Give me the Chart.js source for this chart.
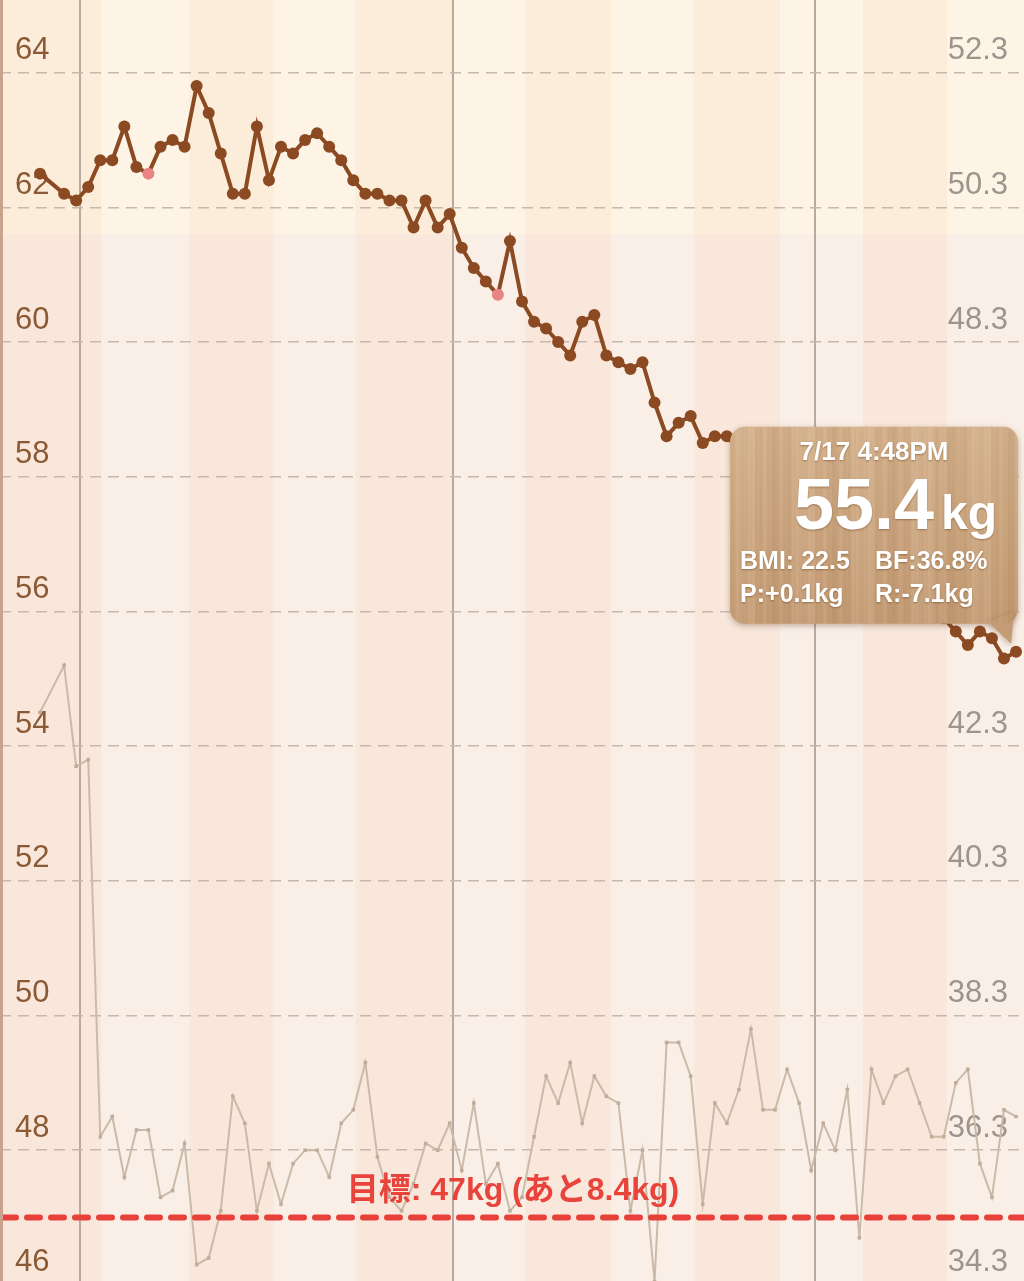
<!DOCTYPE html>
<html>
<head>
<meta charset="utf-8">
<title>体重グラフ</title>
<script src="https://cdn.jsdelivr.net/npm/chart.js@4.4.1/dist/chart.umd.min.js"></script>
<style>
  html, body { margin: 0; padding: 0; background: #faeee6; }
  #weightChart { display: block; }
</style>
</head>
<body>
<canvas id="weightChart" width="1024" height="1281"></canvas>
<script>
// one reading per day, 4/27 -> 7/17 (index 1: no reading)
const weightKg = [
  62.5, null, 62.2, 62.1, 62.3, 62.7, 62.7, 63.2, 62.6, 62.5,
  62.9, 63.0, 62.9, 63.8, 63.4, 62.8, 62.2, 62.2, 63.2, 62.4,
  62.9, 62.8, 63.0, 63.1, 62.9, 62.7, 62.4, 62.2, 62.2, 62.1,
  62.1, 61.7, 62.1, 61.7, 61.9, 61.4, 61.1, 60.9, 60.7, 61.5,
  60.6, 60.3, 60.2, 60.0, 59.8, 60.3, 60.4, 59.8, 59.7, 59.6,
  59.7, 59.1, 58.6, 58.8, 58.9, 58.5, 58.6, 58.6, 58.4, 58.5,
  58.2, 58.0, 58.1, 57.7, 57.5, 57.6, 57.2, 57.0, 57.1, 56.7,
  56.5, 56.6, 56.2, 56.0, 56.1, 55.9, 55.7, 55.5, 55.7, 55.6,
  55.3, 55.4
];
const bodyFatPct = [
  42.8, null, 43.5, 42.0, 42.1, 36.5, 36.8, 35.9, 36.6, 36.6,
  35.6, 35.7, 36.4, 34.6, 34.7, 35.4, 37.1, 36.7, 35.4, 36.1,
  35.5, 36.1, 36.3, 36.3, 35.9, 36.7, 36.9, 37.6, 36.2, 35.6,
  35.4, 35.8, 36.4, 36.3, 36.7, 36.0, 37.0, 35.8, 36.1, 35.4,
  35.6, 36.5, 37.4, 37.0, 37.6, 36.7, 37.4, 37.1, 37.0, 35.4,
  36.3, 34.35, 37.9, 37.9, 37.4, 35.5, 37.0, 36.7, 37.2, 38.1,
  36.9, 36.9, 37.5, 37.0, 36.0, 36.7, 36.3, 37.2, 35.0, 37.5,
  37.0, 37.4, 37.5, 37.0, 36.5, 36.5, 37.3, 37.5, 36.1, 35.6,
  36.9, 36.8
];
const pinkDays = [9, 38];
const leftTicks = [46, 48, 50, 52, 54, 56, 58, 60, 62, 64];
const rightTicks = [34.3, 36.3, 38.3, 40.3, 42.3, 44.3, 46.3, 48.3, 50.3, 52.3];
const monthStarts = [3.3, 34.3, 64.3];
const weekEdges = [5.1, 12.4, 19.4, 26.2, 34.3, 40.3, 47.4, 54.3, 61.4, 68.3, 75.3];
const goalKg = 47;
const bmiLimitKg = 61.6;
const lastStamp = '7/17 4:48PM';
const lastBmi = '22.5';

const BROWN = '#8b4a22';
const PINK = '#ea8383';
const FONT = "'Liberation Sans', Arial, Helvetica, sans-serif";

// axes sit inside the plot, so they take no room
const noRoomY = s => { s.width = 0; s.paddingTop = 0; s.paddingBottom = 0; };
const noRoomX = s => { s.height = 0; s.paddingLeft = 0; s.paddingRight = 0; };

// striped background + upper band
const backdrop = {
  id: 'backdrop',
  beforeDraw(chart) {
    const { ctx, chartArea: a, scales } = chart;
    const yBand = scales.y.getPixelForValue(bmiLimitKg);
    const edges = [scales.x.min, ...weekEdges, scales.x.max];
    ctx.save();
    for (let i = 0; i < edges.length - 1; i++) {
      const x0 = scales.x.getPixelForValue(edges[i]);
      const x1 = scales.x.getPixelForValue(edges[i + 1]);
      const dark = i % 2 === 0;
      ctx.fillStyle = dark ? '#fcedda' : '#fdf4e5';
      ctx.fillRect(x0, a.top, x1 - x0, yBand - a.top);
      ctx.fillStyle = dark ? '#f9e7dc' : '#faefe7';
      ctx.fillRect(x0, yBand, x1 - x0, a.bottom - yBand);
    }
    ctx.restore();
  }
};

// goal line and its label
const goal = {
  id: 'goal',
  afterDatasetsDraw(chart) {
    const { ctx, chartArea: a, scales } = chart;
    const y = scales.y.getPixelForValue(goalKg);
    const left = weightKg[weightKg.length - 1] - goalKg;
    ctx.save();
    ctx.strokeStyle = '#e8413a';
    ctx.lineWidth = 6;
    ctx.lineCap = 'round';
    ctx.setLineDash([13, 11]);
    ctx.beginPath();
    ctx.moveTo(a.left + 3, y);
    ctx.lineTo(a.right, y);
    ctx.stroke();
    ctx.setLineDash([]);
    ctx.fillStyle = '#e8443c';
    ctx.font = "bold 32px 'Liberation Sans', Arial, 'Noto Sans CJK JP', sans-serif";
    ctx.textAlign = 'center';
    ctx.textBaseline = 'alphabetic';
    ctx.fillText('目標: ' + goalKg + 'kg (あと' + left.toFixed(1) + 'kg)', (a.left + a.right) / 2 + 1, y - 18);
    ctx.restore();
  }
};

function roundRect(ctx, x, y, w, h, r) {
  ctx.beginPath();
  ctx.moveTo(x + r, y);
  ctx.arcTo(x + w, y, x + w, y + h, r);
  ctx.arcTo(x + w, y + h, x, y + h, r);
  ctx.arcTo(x, y + h, x, y, r);
  ctx.arcTo(x, y, x + w, y, r);
  ctx.closePath();
}

// wooden callout on the latest reading
const callout = {
  id: 'callout',
  afterDraw(chart) {
    const { ctx } = chart;
    const n = weightKg.length - 1;
    const pt = chart.getDatasetMeta(0).data[n];
    const px = pt.x, py = pt.y;
    const bx = px - 286, by = py - 225, bw = 288, bh = 197;

    // left edge rule
    ctx.save();
    ctx.strokeStyle = '#c9a18d';
    ctx.lineWidth = 3;
    ctx.beginPath();
    ctx.moveTo(1.5, 0);
    ctx.lineTo(1.5, chart.height);
    ctx.stroke();
    ctx.restore();

    ctx.save();
    ctx.shadowColor = 'rgba(90, 50, 20, 0.35)';
    ctx.shadowBlur = 6;
    ctx.shadowOffsetY = 2;
    const grad = ctx.createLinearGradient(0, by, 0, by + bh);
    grad.addColorStop(0, '#d3b08b');
    grad.addColorStop(1, '#c39b74');
    ctx.fillStyle = grad;
    roundRect(ctx, bx, by, bw, bh, 15);
    ctx.fill();
    ctx.beginPath();
    ctx.moveTo(px - 28, by + bh - 2);
    ctx.lineTo(px - 2, by + bh - 12);
    ctx.lineTo(px - 5, py - 8);
    ctx.closePath();
    ctx.fill();
    ctx.restore();

    // grain
    ctx.save();
    roundRect(ctx, bx, by, bw, bh, 15);
    ctx.clip();
    for (let i = 0; i < 72; i++) {
      const gx = bx + i * 4 + 1.5;
      const s = Math.sin(i * 1.7) + Math.sin(i * 0.43);
      ctx.fillStyle = s > 0 ? 'rgba(255, 240, 220, ' + (0.05 + s * 0.04) + ')'
                            : 'rgba(120, 80, 40, ' + (0.03 - s * 0.03) + ')';
      ctx.fillRect(gx, by, 2 + Math.abs(s), bh);
    }
    ctx.restore();

    const wNow = weightKg[n];
    const prev = weightKg[n - 1];
    const first = weightKg[0];
    const sign = v => (v >= 0 ? '+' : '-') + Math.abs(v).toFixed(1);

    ctx.save();
    ctx.fillStyle = '#ffffff';
    ctx.shadowColor = 'rgba(90, 50, 15, 0.45)';
    ctx.shadowBlur = 2;
    ctx.shadowOffsetY = 1;
    ctx.textBaseline = 'alphabetic';
    ctx.textAlign = 'center';
    ctx.font = 'bold 26px ' + FONT;
    ctx.fillText(lastStamp, bx + 144, by + 33);
    ctx.textAlign = 'right';
    ctx.font = 'bold 72px ' + FONT;
    ctx.fillText(wNow.toFixed(1), bx + 204, by + 102);
    ctx.textAlign = 'left';
    ctx.font = 'bold 48px ' + FONT;
    ctx.fillText('kg', bx + 211, by + 102);
    ctx.font = 'bold 25px ' + FONT;
    ctx.fillText('BMI: ' + lastBmi, bx + 10, by + 142);
    ctx.fillText('BF:' + bodyFatPct[n].toFixed(1) + '%', bx + 145, by + 142);
    ctx.fillText('P:' + sign(wNow - prev) + 'kg', bx + 10, by + 175);
    ctx.fillText('R:' + sign(wNow - first) + 'kg', bx + 145, by + 175);
    ctx.restore();
  }
};

const ctx = document.getElementById('weightChart').getContext('2d');

new Chart(ctx, {
  type: 'line',
  data: {
    datasets: [{
      label: '体重',
      data: weightKg.map((v, i) => ({ x: i, y: v })),
      yAxisID: 'y',
      borderColor: BROWN,
      borderWidth: 4,
      pointRadius: 6,
      pointBorderWidth: 0,
      pointBackgroundColor: weightKg.map((v, i) => pinkDays.includes(i) ? PINK : BROWN),
      spanGaps: true,
      tension: 0
    }, {
      label: '体脂肪率',
      data: bodyFatPct.map((v, i) => ({ x: i, y: v })),
      yAxisID: 'y2',
      borderColor: '#cbbaa8',
      borderWidth: 2,
      pointStyle: 'rect',
      pointRadius: 2.5,
      pointBorderWidth: 0,
      pointBackgroundColor: '#bfad9a',
      spanGaps: true,
      tension: 0
    }]
  },
  options: {
    responsive: false,
    animation: false,
    layout: { padding: 0, autoPadding: false },
    plugins: {
      legend: { display: false },
      tooltip: { enabled: false }
    },
    scales: {
      x: {
        type: 'linear',
        min: -3.32,
        max: 81.66,
        afterBuildTicks: s => { s.ticks = monthStarts.map(v => ({ value: v })); },
        afterFit: noRoomX,
        ticks: { display: false },
        grid: { color: '#b9aaa0', lineWidth: 2, drawTicks: false },
        border: { display: false }
      },
      y: {
        position: 'left',
        min: 46.058,
        max: 65.078,
        afterBuildTicks: s => { s.ticks = leftTicks.map(v => ({ value: v })); },
        afterFit: noRoomY,
        ticks: {
          mirror: true,
          padding: 15,
          labelOffset: -22,
          color: '#8b5a34',
          font: { family: FONT, size: 31 },
          callback: v => String(v)
        },
        grid: { color: '#c8b8ab', lineWidth: 1.5, drawTicks: false },
        border: { display: false, dash: [11, 7] }
      },
      y2: {
        position: 'right',
        min: 34.358,
        max: 53.378,
        afterBuildTicks: s => { s.ticks = rightTicks.map(v => ({ value: v })); },
        afterFit: noRoomY,
        ticks: {
          mirror: true,
          padding: -16,
          labelOffset: -22,
          color: '#9e948e',
          font: { family: FONT, size: 31 },
          callback: v => Number(v).toFixed(1)
        },
        grid: { display: false, drawTicks: false },
        border: { display: false }
      }
    }
  },
  plugins: [backdrop, goal, callout]
});
</script>
</body>
</html>
